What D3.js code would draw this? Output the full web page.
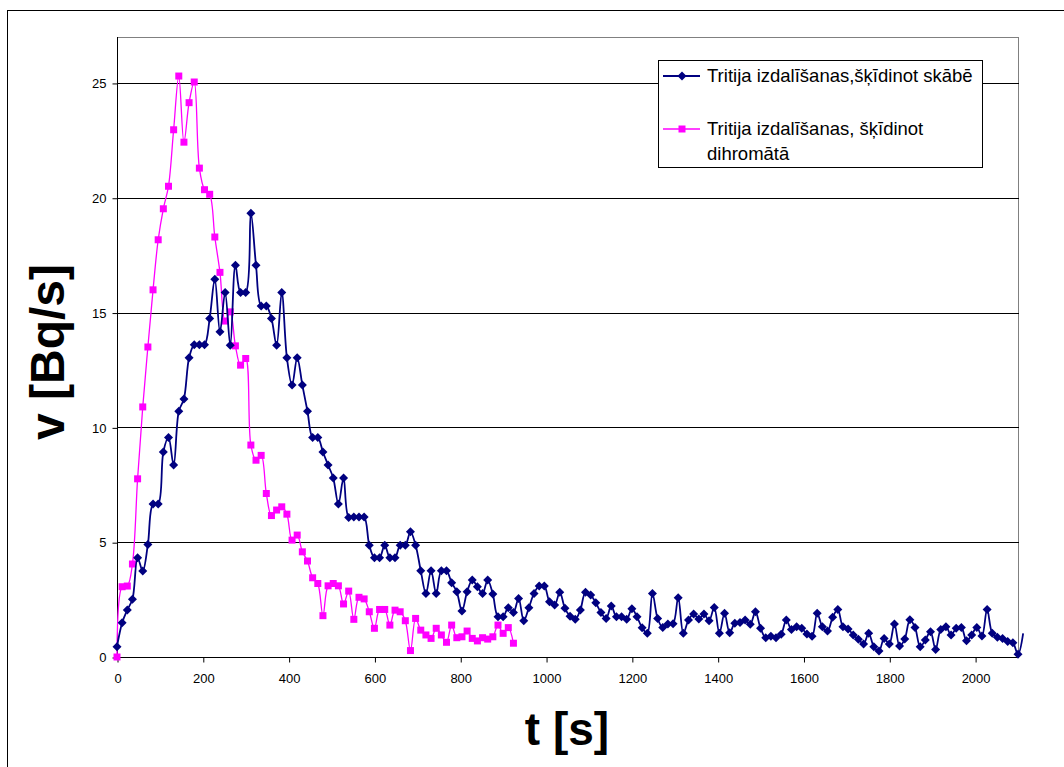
<!DOCTYPE html>
<html lang="lv">
<head>
    <meta charset="UTF-8">
    <title>Tritija izdalīšanas</title>
    <style>
        body {
            margin: 0;
            background: #ffffff;
        }
        svg {
            display: block;
            font-family: "Liberation Sans", Arial, sans-serif;
        }
        .tick line {
            stroke: #000;
        }
        .domain {
            display: none;
        }
        .axis-title {
            font-weight: bold;
            fill: #000;
        }
    </style>
</head>
<body>
<svg width="1064" height="767"></svg>

<script src="https://d3js.org/d3.v7.min.js"></script>
<script>
    // time of each reading [s]
    var timeAcid = [0, 12, 24, 36, 48, 60, 72, 84, 96, 108, 120, 132, 144, 156, 168, 180, 192, 204, 216, 228,
        240, 252, 264, 276, 288, 300, 312, 324, 336, 348, 360, 372, 384, 396, 408, 420, 432, 444, 456, 468,
        480, 492, 504, 516, 528, 540, 552, 564, 576, 588, 600, 612, 624, 636, 648, 660, 672, 684, 696, 708,
        720, 732, 744, 756, 768, 780, 792, 804, 816, 828, 840, 852, 864, 876, 888, 900, 912, 924, 936, 948,
        960, 972, 984, 996, 1008, 1020, 1032, 1044, 1056, 1068, 1080, 1092, 1104, 1116, 1128, 1140, 1152, 1164, 1176, 1188,
        1200, 1212, 1224, 1236, 1248, 1260, 1272, 1284, 1296, 1308, 1320, 1332, 1344, 1356, 1368, 1380, 1392, 1404, 1416, 1428,
        1440, 1452, 1464, 1476, 1488, 1500, 1512, 1524, 1536, 1548, 1560, 1572, 1584, 1596, 1608, 1620, 1632, 1644, 1656, 1668,
        1680, 1692, 1704, 1716, 1728, 1740, 1752, 1764, 1776, 1788, 1800, 1812, 1824, 1836, 1848, 1860, 1872, 1884, 1896, 1908,
        1920, 1932, 1944, 1956, 1968, 1980, 1992, 2004, 2016, 2028, 2040, 2052, 2064, 2076, 2088, 2100, 2112];

    // v [Bq/s] - skābe
    var valuesAcid = [0.45, 1.49, 2.05, 2.51, 4.32, 3.74, 4.9, 6.66, 6.66, 8.93,
        9.56, 8.36, 10.7, 11.24, 13.03, 13.6, 13.6, 13.6, 14.74, 16.45,
        14.16, 15.87, 13.58, 17.06, 15.87, 15.87, 19.33, 17.06, 15.29, 15.29,
        14.74, 13.58, 15.87, 13.03, 11.84, 13.03, 11.84, 10.7, 9.56, 9.56,
        8.93, 8.36, 7.8, 6.66, 7.8, 6.08, 6.1, 6.1, 6.1, 4.87,
        4.32, 4.32, 4.87, 4.32, 4.32, 4.87, 4.87, 5.45, 4.87, 3.76,
        2.77, 3.76, 2.77, 3.76, 3.76, 3.23, 2.84, 2.0, 2.84, 3.35,
        3.06, 2.77, 3.35, 2.74, 1.75, 1.75, 2.15, 1.94, 2.55, 1.58,
        2.15, 2.77, 3.09, 3.09, 2.41, 2.26, 2.82, 2.12, 1.78, 1.64,
        2.05, 2.82, 2.7, 2.36, 1.94, 1.68, 2.22, 1.75, 1.75, 1.64,
        2.1, 1.75, 1.27, 1.03, 2.77, 1.68, 1.28, 1.44, 1.45, 2.58,
        1.03, 1.61, 1.87, 1.65, 1.87, 1.58, 2.16, 1.03, 1.9, 1.06,
        1.47, 1.5, 1.61, 1.43, 1.97, 1.25, 0.84, 0.9, 0.84, 0.99,
        1.61, 1.2, 1.32, 1.25, 1.0, 0.9, 1.9, 1.32, 1.13, 1.73,
        2.07, 1.32, 1.22, 0.96, 0.77, 0.57, 1.03, 0.45, 0.26, 0.81,
        0.57, 1.44, 0.48, 0.78, 1.62, 1.29, 0.45, 0.74, 1.1, 0.33,
        1.2, 1.32, 0.96, 1.25, 1.29, 0.71, 0.96, 1.29, 0.91, 2.07,
        1.03, 0.86, 0.81, 0.67, 0.62, 0.12, 1.03];

    var timeDichromate = [0, 12, 24, 36, 48, 60, 72, 84, 96, 108, 120, 132, 144, 156, 168, 180, 192, 204, 216, 228,
        240, 252, 264, 276, 288, 300, 312, 324, 336, 348, 360, 372, 384, 396, 408, 420, 432, 444, 456, 468,
        480, 492, 504, 516, 528, 540, 552, 564, 576, 588, 600, 612, 624, 636, 648, 660, 672, 684, 696, 708,
        720, 732, 744, 756, 768, 780, 792, 804, 816, 828, 840, 852, 864, 876, 888, 900, 912, 924];

    // v [Bq/s] - dihromāts
    var valuesDichromate = [0, 3.06, 3.09, 4.05, 7.76, 10.89, 13.5, 15.99, 18.17, 19.52,
        20.5, 22.96, 25.3, 22.42, 24.14, 25.04, 21.29, 20.35, 20.15, 18.29,
        16.75, 14.63, 15.03, 13.55, 12.71, 13.0, 9.23, 8.57, 8.78, 7.12,
        6.16, 6.4, 6.54, 6.22, 5.09, 5.31, 4.58, 4.18, 3.45, 3.2,
        1.8, 3.1, 3.2, 3.1, 2.31, 2.87, 1.64, 2.6, 2.53, 1.97,
        1.25, 2.07, 2.07, 1.39, 2.04, 1.97, 1.58, 0.28, 1.68, 1.17,
        0.96, 0.81, 1.25, 0.96, 0.64, 1.39, 0.84, 0.88, 1.13, 0.81,
        0.7, 0.84, 0.78, 0.88, 1.39, 1.03, 1.28, 0.6];

    var seriesNames = ["Tritija izdalīšanas,šķīdinot skābē", "Tritija izdalīšanas, šķīdinot dihromātā"];
    var xTicks = [0, 200, 400, 600, 800, 1000, 1200, 1400, 1600, 1800, 2000];
    var yTicks = [0, 5, 10, 15, 20, 25];

    var svg = d3.select("svg");

    // plot area
    var plotLeft = 117, plotRight = 1018, plotTop = 37, plotBottom = 657;

    var x = d3.scaleLinear().domain([0, 2100]).range([plotLeft, plotRight]);
    var y = d3.scaleLinear().domain([0, 27]).range([plotBottom, plotTop]);

    // outer chart border (open at right / bottom like the screenshot)
    svg.append("rect")
        .attr("x", 7.5).attr("y", 10.5)
        .attr("width", 1100).attr("height", 800)
        .attr("fill", "#fff")
        .attr("stroke", "#000");

    // plot area border
    svg.append("rect")
        .attr("x", plotLeft + 0.5).attr("y", plotTop + 0.5)
        .attr("width", plotRight - plotLeft).attr("height", plotBottom - plotTop)
        .attr("fill", "#fff")
        .attr("stroke", "#808080");

    // gridlines
    svg.append("g")
        .selectAll("line")
        .data(yTicks.filter(function (d) { return d > 0; }))
        .enter().append("line")
        .attr("x1", plotLeft).attr("x2", plotRight + 1)
        .attr("y1", function (d) { return Math.round(y(d)) + 0.5; })
        .attr("y2", function (d) { return Math.round(y(d)) + 0.5; })
        .attr("stroke", "#000");

    // axes
    svg.append("g")
        .attr("transform", "translate(" + (plotLeft + 0.5) + ",0.5)")
        .call(d3.axisLeft(y).tickValues(yTicks).tickSize(5).tickSizeOuter(0).tickPadding(6))
        .attr("font-size", 13)
        .attr("font-family", "Liberation Sans, Arial, sans-serif");

    svg.append("g")
        .attr("transform", "translate(0.5," + (plotBottom + 0.5) + ")")
        .call(d3.axisBottom(x).tickValues(xTicks).tickFormat(d3.format("d"))
            .tickSize(5).tickSizeOuter(0).tickPadding(11))
        .attr("font-size", 13)
        .attr("font-family", "Liberation Sans, Arial, sans-serif");

    svg.append("line")
        .attr("x1", plotLeft + 0.5).attr("x2", plotLeft + 0.5)
        .attr("y1", plotTop).attr("y2", plotBottom + 1)
        .attr("stroke", "#000");
    svg.append("line")
        .attr("x1", plotLeft).attr("x2", plotRight + 1)
        .attr("y1", plotBottom + 0.5).attr("y2", plotBottom + 0.5)
        .attr("stroke", "#000");

    // axis titles
    svg.append("text")
        .attr("class", "axis-title")
        .attr("x", 567).attr("y", 745)
        .attr("text-anchor", "middle")
        .style("font-size", "46px")
        .text("t [s]");

    svg.append("text")
        .attr("class", "axis-title")
        .attr("transform", "translate(64,352) rotate(-90)")
        .attr("text-anchor", "middle")
        .style("font-size", "48px")
        .text("v [Bq/s]");

    // series
    var acid = timeAcid.map(function (t, i) { return { t: t, v: valuesAcid[i] }; });
    var dichromate = timeDichromate.map(function (t, i) { return { t: t, v: valuesDichromate[i] }; });

    var line = d3.line()
        .x(function (d) { return x(d.t); })
        .y(function (d) { return y(d.v); })
        .curve(d3.curveCatmullRom.alpha(0.5));

    var diamond = "M0,-4.5L4.5,0L0,4.5L-4.5,0Z";
    var square = "M-3.5,-3.5H3.5V3.5H-3.5Z";

    function drawSeries(data, color, width, shape) {
        svg.append("path")
            .datum(data)
            .attr("fill", "none")
            .attr("stroke", color)
            .attr("stroke-width", width)
            .attr("d", line);

        svg.append("g")
            .selectAll("path")
            .data(data.filter(function (d) { return d.t <= 2100; }))
            .enter().append("path")
            .attr("transform", function (d) { return "translate(" + x(d.t) + "," + y(d.v) + ")"; })
            .attr("d", shape)
            .attr("fill", color);
    }

    drawSeries(dichromate, "#ff00ff", 1.3, square);
    drawSeries(acid, "#000080", 1.8, diamond);

    // legend
    var legend = svg.append("g").attr("transform", "translate(658,60)");

    legend.append("rect")
        .attr("x", 0.5).attr("y", 0.5)
        .attr("width", 324).attr("height", 107)
        .attr("fill", "#fff")
        .attr("stroke", "#000");

    var legendItems = [
        { color: "#000080", shape: diamond, width: 1.8, lines: [seriesNames[0]], y: 16 },
        { color: "#ff00ff", shape: square, width: 1.3, lines: ["Tritija izdalīšanas, šķīdinot", "dihromātā"], y: 69 }
    ];

    legendItems.forEach(function (item) {
        var g = legend.append("g").attr("transform", "translate(0," + item.y + ")");
        g.append("line")
            .attr("x1", 5).attr("x2", 42)
            .attr("stroke", item.color)
            .attr("stroke-width", item.width);
        g.append("path")
            .attr("transform", "translate(24,0)")
            .attr("d", item.shape)
            .attr("fill", item.color);
        var txt = g.append("text")
            .attr("x", 49)
            .attr("y", 6)
            .style("font-size", "18.5px")
            .attr("fill", "#000");
        item.lines.forEach(function (l, i) {
            txt.append("tspan")
                .attr("x", 49)
                .attr("dy", i === 0 ? 0 : 24.5)
                .text(l);
        });
    });
</script>
</body>
</html>
